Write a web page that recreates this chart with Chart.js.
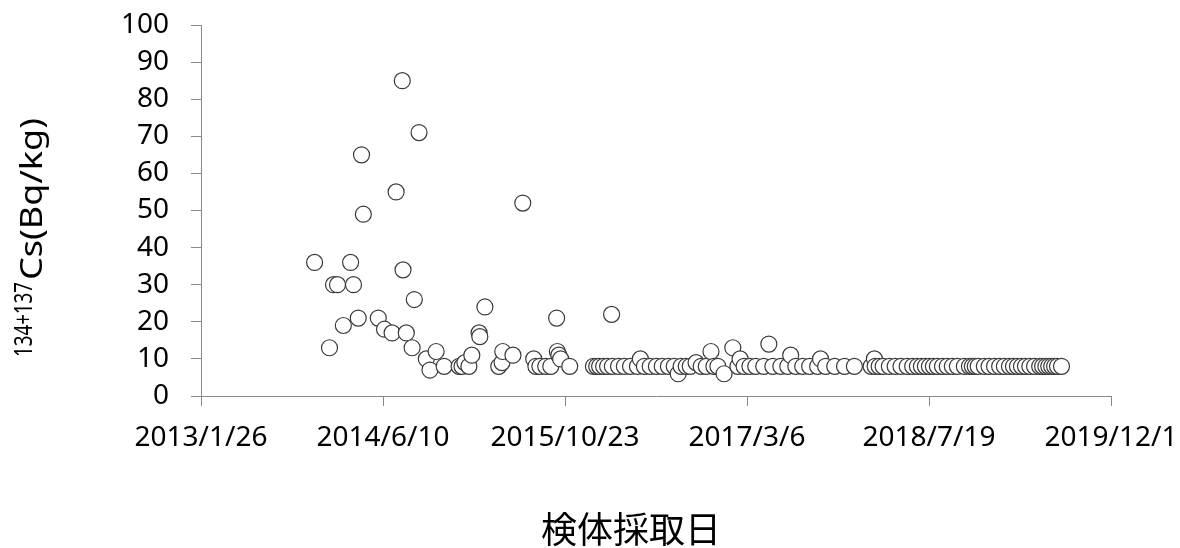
<!DOCTYPE html>
<html>
<head>
<meta charset="utf-8">
<script src="https://cdn.jsdelivr.net/npm/chart.js@4/dist/chart.umd.min.js"></script>
<style>
  html, body { margin: 0; padding: 0; background: #fff; }
  #wrap { width: 1180px; height: 548px; }
</style>
</head>
<body>
<div id="wrap"><canvas id="csChart" width="1180" height="548"></canvas></div>
<script>
// sample dates as Excel serial numbers (41300 = 2013/1/26)
const sampleDates = [
  41612, 41653, 41664, 41675, 41691, 41711, 41719, 41732, 41741, 41746,
  41787, 41804, 41825, 41836, 41853, 41855, 41864, 41880, 41886, 41899,
  41919, 41929, 41946, 41968, 42009, 42017, 42025, 42036, 42044, 42064,
  42066, 42080, 42118, 42127, 42129, 42157, 42184, 42214, 42220, 42231,
  42247, 42261, 42277, 42279, 42283, 42288, 42313, 42378, 42387, 42395,
  42406, 42417, 42428, 42430, 42447, 42463, 42480, 42499, 42507, 42518,
  42534, 42551, 42567, 42584, 42600, 42611, 42619, 42633, 42644, 42660,
  42674, 42688, 42701, 42709, 42720, 42737, 42761, 42775, 42781, 42792,
  42808, 42824, 42846, 42860, 42871, 42893, 42912, 42920, 42934, 42953,
  42972, 42994, 43002, 43016, 43041, 43068, 43095, 43141, 43150, 43152,
  43163, 43174, 43191, 43207, 43223, 43240, 43255, 43268, 43279, 43290,
  43301, 43312, 43323, 43337, 43350, 43364, 43378, 43397, 43411, 43419,
  43427, 43435, 43452, 43465, 43480, 43494, 43507, 43521, 43532, 43543,
  43554, 43565, 43577, 43590, 43604, 43612, 43621, 43629, 43637, 43645,
  43653, 43664
];
// 134+137Cs (Bq/kg)
const cesium = [
  36, 13, 30, 30, 19, 36, 30, 21, 65, 49,
  21, 18, 17, 55, 85, 34, 17, 13, 26, 71,
  10, 7, 12, 8, 8, 8, 9, 8, 11, 17,
  16, 24, 8, 9, 12, 11, 52, 10, 8, 8,
  8, 8, 21, 12, 11, 10, 8, 8, 8, 8,
  8, 8, 22, 8, 8, 8, 8, 8, 10, 8,
  8, 8, 8, 8, 8, 6, 8, 8, 8, 9,
  8, 8, 12, 8, 8, 6, 13, 8, 10, 8,
  8, 8, 8, 14, 8, 8, 8, 11, 8, 8,
  8, 8, 10, 8, 8, 8, 8, 8, 10, 8,
  8, 8, 8, 8, 8, 8, 8, 8, 8, 8,
  8, 8, 8, 8, 8, 8, 8, 8, 8, 8,
  8, 8, 8, 8, 8, 8, 8, 8, 8, 8,
  8, 8, 8, 8, 8, 8, 8, 8, 8, 8,
  8, 8
];
const xMin = 41300, xMax = 43800, xStep = 500;
const yMin = 0, yMax = 100, yStep = 10;
const xTitle = '検体採取日';
const yTitleSup = '134+137';
const yTitleMain = 'Cs(Bq/kg)';

const axisGray = '#898989';
const baseFont = '"Noto Sans", "Open Sans", sans-serif';

function serialToLabel(serial) {
  const d = new Date(Date.UTC(1899, 11, 30) + serial * 86400000);
  return d.getUTCFullYear() + '/' + (d.getUTCMonth() + 1) + '/' + d.getUTCDate();
}

// draw a rotated text piece stretched/squeezed to a given length
function drawRotated(ctx, text, font, x, yStart, length) {
  ctx.save();
  ctx.font = font;
  const w = ctx.measureText(text).width;
  ctx.translate(x, yStart);
  ctx.rotate(-Math.PI / 2);
  ctx.scale(length / w, 1);
  ctx.textAlign = 'left';
  ctx.textBaseline = 'alphabetic';
  ctx.fillStyle = '#000';
  ctx.fillText(text, 0, 0);
  ctx.restore();
}

const titlesPlugin = {
  id: 'axisTitles',
  afterDraw(chart) {
    const ctx = chart.ctx;
    ctx.save();
    ctx.fillStyle = '#000';
    ctx.font = '36px "Noto Sans CJK JP", sans-serif';
    ctx.textAlign = 'center';
    ctx.textBaseline = 'middle';
    ctx.fillText(xTitle, 631, 529);
    ctx.restore();
    drawRotated(ctx, yTitleSup, '25px ' + baseFont, 32, 357, 75);
    drawRotated(ctx, yTitleMain, '31px ' + baseFont, 42, 280, 162);
  }
};

const points = sampleDates.map((d, i) => ({ x: d, y: cesium[i] }));

new Chart(document.getElementById('csChart').getContext('2d'), {
  type: 'scatter',
  data: {
    datasets: [{
      data: points,
      pointRadius: 8,
      pointHoverRadius: 8,
      pointBackgroundColor: '#fff',
      pointBorderColor: '#3a3a3a',
      pointBorderWidth: 1.2
    }]
  },
  options: {
    responsive: false,
    animation: false,
    events: [],
    layout: { padding: { top: 25, right: 69, left: 0, bottom: 0 } },
    plugins: { legend: { display: false }, tooltip: { enabled: false } },
    scales: {
      x: {
        type: 'linear',
        min: xMin,
        max: xMax,
        afterFit(scale) {
          scale.height = 152;
          scale.paddingLeft = 0;
          scale.paddingRight = 0;
        },
        grid: { drawOnChartArea: false, drawTicks: true, tickLength: 10, color: axisGray },
        border: { display: true, color: axisGray, width: 1 },
        ticks: {
          stepSize: xStep,
          color: '#000',
          padding: 15,
          maxRotation: 0,
          autoSkip: false,
          font: { family: baseFont, size: 28 },
          callback: v => serialToLabel(v)
        }
      },
      y: {
        min: yMin,
        max: yMax,
        afterFit(scale) {
          scale.width = 201;
          scale.paddingTop = 0;
          scale.paddingBottom = 0;
        },
        grid: { drawOnChartArea: false, drawTicks: true, tickLength: 10, color: axisGray },
        border: { display: true, color: axisGray, width: 1 },
        ticks: {
          stepSize: yStep,
          autoSkip: false,
          color: '#000',
          padding: 22,
          font: { family: baseFont, size: 28 }
        }
      }
    }
  },
  plugins: [titlesPlugin]
});
</script>
</body>
</html>
